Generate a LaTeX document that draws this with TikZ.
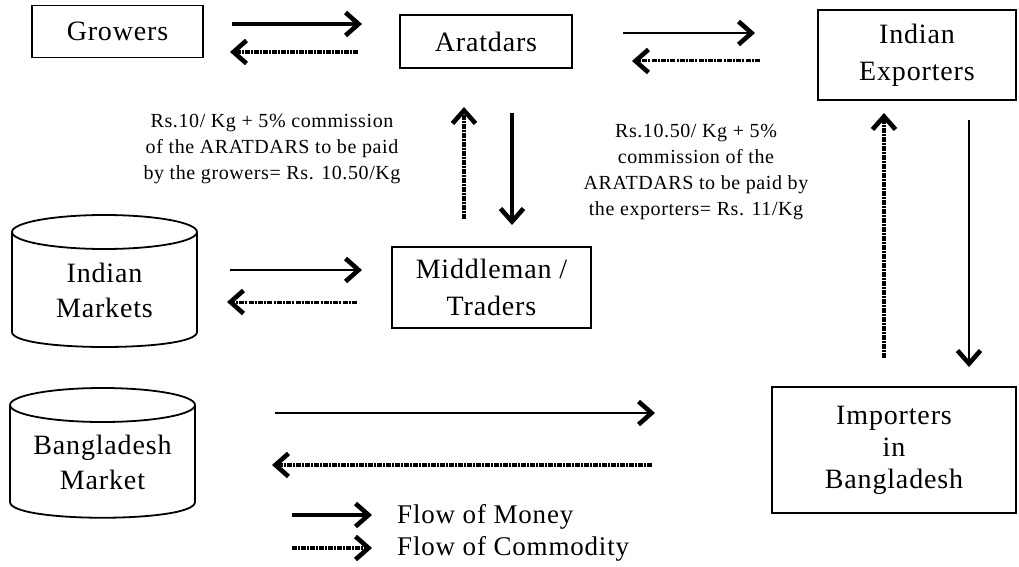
\documentclass[tikz,border=0pt]{standalone}
\usepackage{fontspec}
\setmainfont{Liberation Serif}[LetterSpace=3]
\usetikzlibrary{arrows.meta}
\tikzset{
  box/.style={draw, line width=1.8pt, inner sep=0pt, align=center, font=\fontsize{28}{37}\selectfont},
  cyltext/.style={inner sep=0pt, align=center, font=\fontsize{28}{35}\selectfont},
  note/.style={inner sep=0pt, align=center, font=\fontsize{20}{26}\selectfont},
  legtext/.style={inner sep=0pt, anchor=west, font=\fontsize{27}{32}\selectfont},
  cyl/.style={line width=1.8pt},
  tipbig/.tip={Straight Barb[length=13pt,width=23pt,line width=4.6pt 0 0]},
  money/.style={line width=3.9pt, -tipbig},
  moneythin/.style={line width=2.6pt, -tipbig},
  goods/.style={line width=4.6pt, dash pattern=on 5pt off 1pt on 2pt off 1pt, -tipbig},
  goodsthin/.style={line width=3pt, dash pattern=on 5pt off 1.2pt on 2pt off 1.2pt, -tipbig},
}
\begin{document}
\begin{tikzpicture}[x=1pt,y=-1pt]
\useasboundingbox (0,0) rectangle (1019,567);
% boxes
\node[box, minimum width=171pt, minimum height=52pt] (growers) at (117.5,31.5) {Growers};
\node[box, minimum width=172pt, minimum height=53pt] (aratdars) at (486,41.5) {Aratdars};
\node[box, minimum width=198pt, minimum height=90pt] (exporters) at (917,55) {Indian\\Exporters};
\node[box, minimum width=199pt, minimum height=81pt] (middleman) at (491.5,287.5) {Middleman /\\Traders};
\node[box, minimum width=244pt, minimum height=126pt, font=\fontsize{28}{32}\selectfont] (importers) at (894,450) {Importers\\in\\Bangladesh};
% cylinders
\draw[cyl] (104.5,232) ellipse [x radius=92.5pt, y radius=17pt];
\draw[cyl] (12,232) -- (12,332) .. controls (12,352) and (197,352) .. (197,332) -- (197,232);
\node[cyltext] (indmk) at (104.5,290) {Indian\\Markets};
\draw[cyl] (102.5,405) ellipse [x radius=92.5pt, y radius=17pt];
\draw[cyl] (10,405) -- (10,502) .. controls (10,523) and (195,523) .. (195,502) -- (195,405);
\node[cyltext] (bdmk) at (102.5,462) {Bangladesh\\Market};
% notes
\node[note] (note1) at (272,149) {Rs.10/ Kg + 5\% commission\\of the ARATDARS to be paid\\by the growers= Rs. 10.50/Kg};
\node[note] (note2) at (696,172) {Rs.10.50/ Kg + 5\%\\commission of the\\ARATDARS to be paid by\\the exporters= Rs. 11/Kg};
% arrow end points
\coordinate (g1) at (232,24);  \coordinate (g2) at (362,24);
\coordinate (g3) at (358,52);  \coordinate (g4) at (230,52);
\coordinate (e1) at (623,33);  \coordinate (e2) at (755,33);
\coordinate (e3) at (760,61);  \coordinate (e4) at (632,61);
\coordinate (m1) at (512,113); \coordinate (m2) at (512,225);
\coordinate (m3) at (464,219); \coordinate (m4) at (464,107);
\coordinate (x1) at (969,120); \coordinate (x2) at (969,367);
\coordinate (x3) at (884,358); \coordinate (x4) at (884,113);
\coordinate (i1) at (230,270); \coordinate (i2) at (362,270);
\coordinate (i3) at (357,302); \coordinate (i4) at (227,302);
\coordinate (b1) at (275,413); \coordinate (b2) at (655,413);
\coordinate (b3) at (652,465); \coordinate (b4) at (272,465);
\coordinate (l1) at (292,515); \coordinate (l2) at (372,515);
\coordinate (l3) at (292,548); \coordinate (l4) at (372,548);
% arrows
\draw[money] (g1) -- (g2);
\draw[goods] (g3) -- (g4);
\draw[moneythin] (e1) -- (e2);
\draw[goodsthin] (e3) -- (e4);
\draw[money] (m1) -- (m2);
\draw[goods] (m3) -- (m4);
\draw[moneythin] (x1) -- (x2);
\draw[goods] (x3) -- (x4);
\draw[moneythin] (i1) -- (i2);
\draw[goodsthin] (i3) -- (i4);
\draw[moneythin] (b1) -- (b2);
\draw[goods] (b3) -- (b4);
\draw[money] (l1) -- (l2);
\draw[goods] (l3) -- (l4);
% legend
\node[legtext] (legm) at (397,517) {Flow of Money};
\node[legtext] (legc) at (397,549) {Flow of Commodity};
\end{tikzpicture}
\end{document}
